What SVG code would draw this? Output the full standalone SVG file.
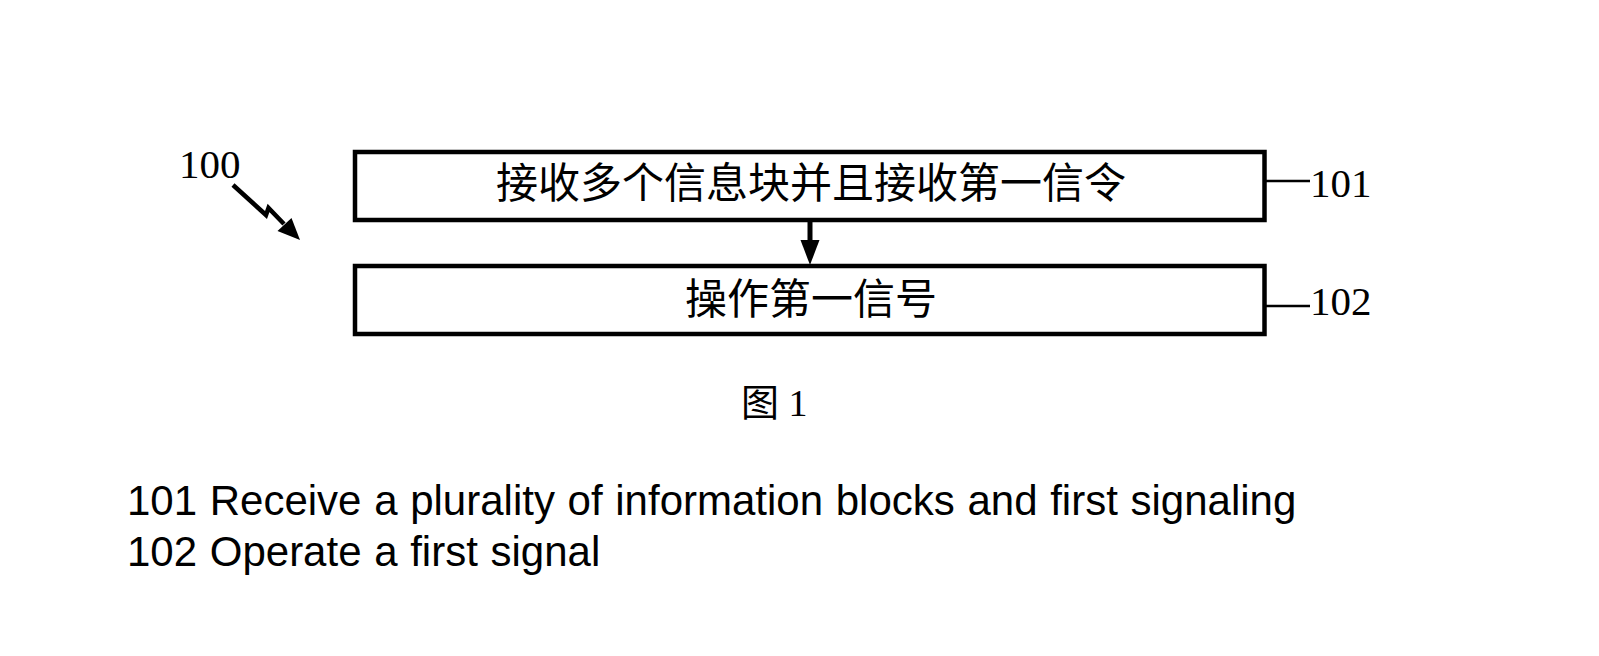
<svg xmlns="http://www.w3.org/2000/svg" width="1599" height="656" viewBox="0 0 1599 656">
  <style>
    .box { fill: #ffffff; stroke: #000000; stroke-width: 4.5; }
    .cjk { font-family: "Noto Sans CJK SC", sans-serif; font-size: 42px; fill: #000; }
    .ref { font-family: "Liberation Serif", "Noto Sans CJK SC", serif; font-size: 41px; fill: #000; }
    .leg { font-family: "Liberation Sans", sans-serif; font-size: 42px; fill: #000; word-spacing: 1px; }
    .lead { stroke: #000; stroke-width: 2.5; fill: none; }
  </style>
  <rect width="1599" height="656" fill="#ffffff"/>

  <g id="label100">
    <text class="ref" x="179" y="178" font-size="39">100</text>
    <polyline points="233,185 266,215 268.5,208 284,224" fill="none" stroke="#000" stroke-width="4.5" stroke-linejoin="miter"/>
    <polygon points="300,240 277.5,231 291.5,218" fill="#000"/>
  </g>

  <g id="node101">
    <rect class="box" x="355" y="152" width="909.5" height="68"/>
    <text class="cjk" x="811" y="198" text-anchor="middle">接收多个信息块并且接收第一信令</text>
    <line class="lead" x1="1265" y1="181" x2="1310" y2="181"/>
    <text class="ref" x="1310" y="197">101</text>
  </g>

  <g id="node102">
    <rect class="box" x="355" y="266" width="909.5" height="68"/>
    <text class="cjk" x="811" y="314" text-anchor="middle">操作第一信号</text>
    <line class="lead" x1="1265" y1="306" x2="1310" y2="306"/>
    <text class="ref" x="1310" y="315">102</text>
  </g>

  <g id="connectors">
    <line x1="810" y1="222" x2="810" y2="242" stroke="#000" stroke-width="5"/>
    <polygon points="800.5,240 819.5,240 810,265" fill="#000"/>
  </g>

  <g id="caption">
    <text x="741" y="416" font-family="Liberation Serif, 'Noto Sans CJK SC', serif" font-size="38">图 1</text>
  </g>

  <g id="legend">
    <text class="leg" x="127" y="515">101 Receive a plurality of information blocks and first signaling</text>
    <text class="leg" x="127" y="566">102 Operate a first signal</text>
  </g>
</svg>
